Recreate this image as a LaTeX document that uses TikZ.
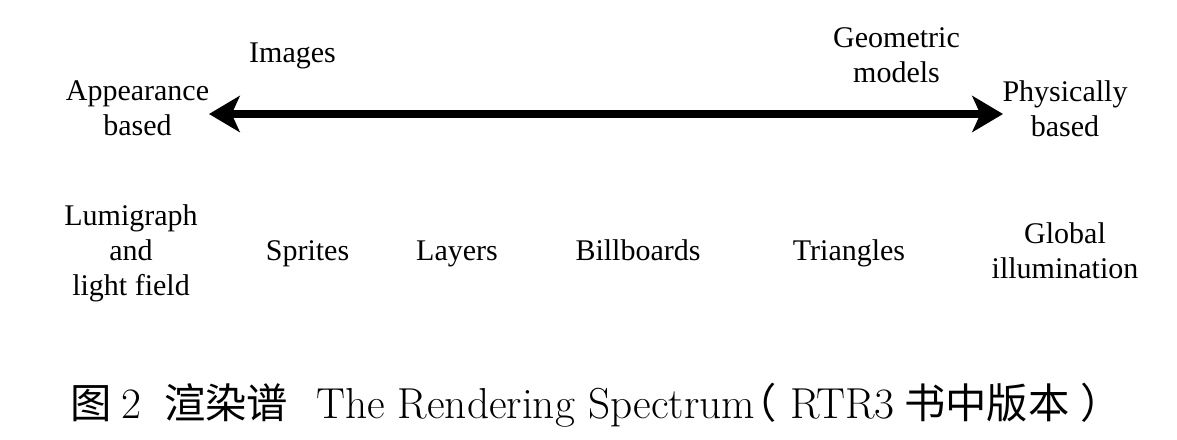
\documentclass[tikz,border=0pt]{standalone}
\usepackage{fontspec}
\usetikzlibrary{arrows.meta}
\newfontfamily\tnr{Liberation Serif}
\newfontfamily\cjk{Noto Sans CJK SC}
\newcommand{\cjkbig}{\cjk\fontsize{31}{34}\selectfont}
\tikzset{
  lbl/.style={font=\tnr\fontsize{22.5}{26.25}\selectfont, align=center, inner sep=0pt, anchor=center,
    execute at begin node=\strut, execute at end node=\strut},
  spec/.style={line width=6pt, {Stealth[length=23pt, width=27pt, inset=6pt]}-{Stealth[length=23pt, width=27pt, inset=6pt]}}
}
\begin{document}
\begin{tikzpicture}[x=0.75pt, y=-0.75pt]
\useasboundingbox (0,0) rectangle (1177,439);
\node[lbl] (images) at (292.5,55) {Images};
\node[lbl] (geo) at (896.5,60.5) {Geometric\\models};
\node[lbl] (app) at (137.5,113.5) {Appearance\\based};
\node[lbl] (phys) at (1065,113.5) {Physically\\based};
\coordinate (l) at (209,114);
\coordinate (r) at (1003,114);
\draw[spec] (l) -- (r);
\node[lbl] (lumi) at (131,255.5) {Lumigraph\\and\\light field};
\node[lbl] (sprites) at (307.5,253) {Sprites};
\node[lbl] (layers) at (457,253) {Layers};
\node[lbl] (bill) at (638,253) {Billboards};
\node[lbl] (tri) at (849,253) {Triangles};
\node[lbl] (glob) at (1065,256) {Global\\illumination};
\node[anchor=base west, inner sep=0pt] (cap) at (70,418) {\fontsize{32.5}{36}\selectfont{\cjkbig 图}\hspace{7.5pt}2\hspace{17pt}{\cjkbig 渲染谱}\hspace{21pt}The Rendering Spectrum\hspace{-15pt}{\cjkbig （}\hspace{10.5pt}RTR3\hspace{7pt}{\cjkbig 书中版本\hspace{8pt}）}};
\end{tikzpicture}
\end{document}
